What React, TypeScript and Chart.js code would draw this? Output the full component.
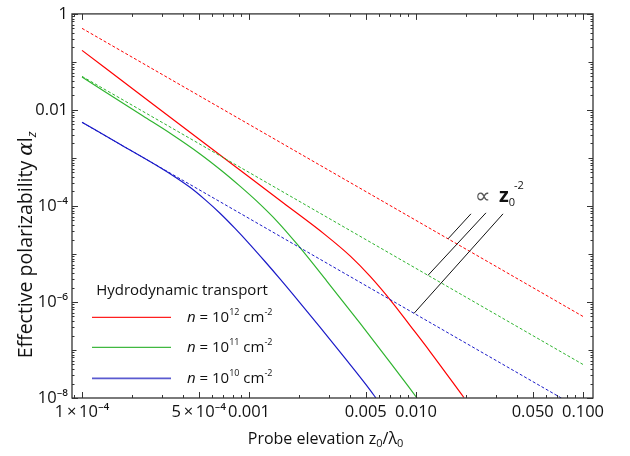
import React, { useEffect, useRef } from "react";
import { Chart, registerables } from "chart.js";

Chart.register(...registerables);

// Probe elevation z0/λ0 (x) and effective polarizability α l_z (y)
const redSolidZ = [1e-4, 2.554e-4, 6.89e-4, 1.6e-3, 2.851e-3, 4.03e-3, 5.3e-3, 7.28e-3, 9.2e-3, 1.213e-2, 1.936e-2];
const redSolidA = [0.174, 1.466e-2, 1.071e-3, 1.163e-4, 2.53e-5, 9.12e-6, 3.446e-6, 9.4e-7, 3.264e-7, 9.29e-8, 1.024e-8];

const greenSolidZ = [1e-4, 1.336e-4, 2.32e-4, 3.37e-4, 5.09e-4, 6.89e-4, 8.83e-4, 1.117e-3, 1.473e-3, 1.936e-3, 2.93e-3, 4.62e-3, 6.98e-3, 1.014e-2];
const greenSolidA = [0.04866, 0.02548, 7.46e-3, 3.265e-3, 1.211e-3, 5.35e-4, 2.584e-4, 1.243e-4, 4.786e-5, 1.615e-5, 2.697e-6, 3.62e-7, 5.61e-8, 1e-8];

const blueSolidZ = [1e-4, 1.689e-4, 2.932e-4, 3.605e-4, 4.433e-4, 5.452e-4, 6.703e-4, 8.245e-4, 1.014e-3, 1.247e-3, 1.533e-3, 2.02e-3, 2.661e-3, 3.757e-3, 5.3e-3, 5.75e-3];
const blueSolidA = [5.54e-3, 1.924e-3, 6.31e-4, 4.01e-4, 2.441e-4, 1.353e-4, 7.05e-5, 3.405e-5, 1.57e-5, 6.97e-6, 3.034e-6, 9.63e-7, 3.0e-7, 6.74e-8, 1.476e-8, 1e-8];

// ∝ z0^-2 reference lines
const dashZ = [1e-4, 0.1];
const redDashA = [0.5, 5e-7];
const greenDashA = [0.05, 5e-8];
const blueDashA = [5.5e-3, 5.5e-9];

const xTickValues = [1e-4, 5e-4, 1e-3, 5e-3, 1e-2, 5e-2, 1e-1];
const xTickLabels = ["1\u2009×\u200910⁻⁴", "5\u2009×\u200910⁻⁴", "0.001", "0.005", "0.010", "0.050", "0.100"];
const yTickValues = [1, 1e-2, 1e-4, 1e-6, 1e-8];
const yTickLabels = ["1", "0.01", "10⁻⁴", "10⁻⁶", "10⁻⁸"];

const seriesColors = ["#ff0000", "#2fb42f", "#1a1ac8"];
const legendLineColors = ["#ff2020", "#40b840", "#5a5ad0"];
const densityExponents = ["12", "11", "10"];
const legendTitle = "Hydrodynamic transport";

// pointer lines of the "∝ z0^-2" note, in data coordinates
const pointerStarts = [[0.02133, 6.85e-5], [0.02624, 7.18e-5], [0.0332, 6.85e-5]];
const pointerEnds = [[0.01556, 2.07e-5], [0.0118, 3.59e-6], [9.73e-3, 5.8e-7]];
const noteAnchor = [0.02285, 1.21e-4];

const SANS = "'Open Sans', 'Noto Sans', sans-serif";

type Piece = { t: string; font: string; dy?: number };

function drawRich(ctx: CanvasRenderingContext2D, pieces: Piece[], x: number, y: number, align: "left" | "center") {
  let w = 0;
  for (const p of pieces) {
    ctx.font = p.font;
    w += ctx.measureText(p.t).width;
  }
  let cx = align === "center" ? x - w / 2 : x;
  ctx.textAlign = "left";
  ctx.textBaseline = "alphabetic";
  for (const p of pieces) {
    ctx.font = p.font;
    ctx.fillText(p.t, cx, y + (p.dy || 0));
    cx += ctx.measureText(p.t).width;
  }
}

const decorPlugin = {
  id: "decor",
  afterDraw(chart: any) {
    const { ctx, chartArea: ca, scales } = chart;
    const xs = scales.x;
    const ys = scales.y;
    ctx.save();

    // frame
    ctx.strokeStyle = "#333";
    ctx.lineWidth = 1.3;
    ctx.strokeRect(ca.left, ca.top, ca.right - ca.left, ca.bottom - ca.top);

    // inner ticks
    ctx.lineWidth = 1;
    ctx.strokeStyle = "#333";
    ctx.beginPath();
    for (let d = -5; d <= 0; d++) {
      for (let k = 1; k <= 9; k++) {
        const v = k * Math.pow(10, d);
        if (v < xs.min || v > xs.max) continue;
        const px = Math.round(xs.getPixelForValue(v)) + 0.5;
        const major = xTickValues.some((t) => Math.abs(t - v) / t < 1e-6);
        const len = major ? 6 : 3;
        ctx.moveTo(px, ca.bottom);
        ctx.lineTo(px, ca.bottom - len);
        ctx.moveTo(px, ca.top);
        ctx.lineTo(px, ca.top + len);
      }
    }
    for (let d = -8; d <= 0; d++) {
      for (let k = 1; k <= 9; k++) {
        const v = k * Math.pow(10, d);
        if (v < ys.min * 0.999 || v > ys.max * 1.001) continue;
        const py = Math.round(ys.getPixelForValue(v)) + 0.5;
        const len = k === 1 ? (d % 2 === 0 ? 6 : 4.5) : 2.5;
        ctx.moveTo(ca.left, py);
        ctx.lineTo(ca.left + len, py);
        ctx.moveTo(ca.right, py);
        ctx.lineTo(ca.right - len, py);
      }
    }
    ctx.stroke();

    ctx.fillStyle = "#111";
    // x title
    drawRich(
      ctx,
      [
        { t: "Probe elevation ", font: `16px ${SANS}` },
        { t: "z", font: `16px ${SANS}` },
        { t: "0", font: `11px ${SANS}`, dy: 3 },
        { t: "/", font: `16px ${SANS}` },
        { t: "λ", font: `16px ${SANS}` },
        { t: "0", font: `11px ${SANS}`, dy: 3 },
      ],
      (ca.left + ca.right) / 2 - 7,
      ca.bottom + 46,
      "center"
    );

    // y title
    ctx.save();
    ctx.translate(ca.left - 40, ca.top + 231);
    ctx.rotate(-Math.PI / 2);
    drawRich(
      ctx,
      [
        { t: "Effective polarizability ", font: `19.5px ${SANS}` },
        { t: "α", font: `italic 20px 'DejaVu Serif', serif` },
        { t: "l", font: `19.5px ${SANS}` },
        { t: "z", font: `italic 13px ${SANS}`, dy: 4 },
      ],
      0,
      0,
      "center"
    );
    ctx.restore();

    // legend
    const lx = ca.left + 20;
    ctx.fillStyle = "#111";
    ctx.font = `15px ${SANS}`;
    ctx.textAlign = "center";
    ctx.textBaseline = "alphabetic";
    ctx.fillText(legendTitle, ca.left + 110, ca.top + 281);
    const rowY = [ca.top + 303, ca.top + 333, ca.top + 364];
    densityExponents.forEach((e, i) => {
      ctx.strokeStyle = legendLineColors[i];
      ctx.lineWidth = i === 2 ? 1.8 : 1.2;
      ctx.beginPath();
      ctx.moveTo(lx, rowY[i] + 0.5);
      ctx.lineTo(lx + 79, rowY[i] + 0.5);
      ctx.stroke();
      ctx.fillStyle = "#111";
      drawRich(
        ctx,
        [
          { t: "n", font: `italic 15px ${SANS}` },
          { t: " = 10", font: `15px ${SANS}` },
          { t: e, font: `9px ${SANS}`, dy: -7 },
          { t: " cm", font: `15px ${SANS}` },
          { t: "-2", font: `9px ${SANS}`, dy: -7 },
        ],
        lx + 95,
        rowY[i] + 5,
        "left"
      );
    });

    // ∝ z0^-2 note with pointer lines
    ctx.strokeStyle = "#111";
    ctx.lineWidth = 1;
    ctx.beginPath();
    pointerStarts.forEach((s, i) => {
      const e = pointerEnds[i];
      ctx.moveTo(xs.getPixelForValue(s[0]), ys.getPixelForValue(s[1]));
      ctx.lineTo(xs.getPixelForValue(e[0]), ys.getPixelForValue(e[1]));
    });
    ctx.stroke();
    const nx = xs.getPixelForValue(noteAnchor[0]);
    const ny = ys.getPixelForValue(noteAnchor[1]);
    ctx.fillStyle = "#555";
    ctx.font = `22px 'DejaVu Sans', sans-serif`;
    ctx.textAlign = "left";
    ctx.fillText("∝", nx - 1, ny + 1);
    ctx.fillStyle = "#111";
    drawRich(
      ctx,
      [
        { t: "z", font: `bold 20px ${SANS}` },
        { t: "0", font: `11px ${SANS}`, dy: 4 },
      ],
      nx + 23,
      ny,
      "left"
    );
    ctx.font = `11px ${SANS}`;
    ctx.fillText("-2", nx + 38, ny - 13);

    ctx.restore();
  },
};

export default function App() {
  const ref = useRef<HTMLCanvasElement | null>(null);

  useEffect(() => {
    document.body.style.margin = "0";
    const canvas = ref.current;
    if (!canvas) return;

    const pts = (zs: number[], as: number[]) => zs.map((z, i) => ({ x: z, y: as[i] }));
    const solid = (label: string, zs: number[], as: number[], color: string) => ({
      label,
      data: pts(zs, as),
      borderColor: color,
      backgroundColor: color,
      borderWidth: 1.2,
      pointRadius: 0,
      fill: false,
      cubicInterpolationMode: "monotone" as const,
    });
    const dashed = (label: string, as: number[], color: string) => ({
      label,
      data: pts(dashZ, as),
      borderColor: color,
      backgroundColor: color,
      borderWidth: 1,
      borderDash: [3, 2],
      pointRadius: 0,
      fill: false,
    });

    const chart = new Chart(canvas, {
      type: "line",
      data: {
        datasets: [
          dashed("n = 10¹² cm⁻² (∝ z₀⁻²)", redDashA, seriesColors[0]),
          dashed("n = 10¹¹ cm⁻² (∝ z₀⁻²)", greenDashA, seriesColors[1]),
          dashed("n = 10¹⁰ cm⁻² (∝ z₀⁻²)", blueDashA, seriesColors[2]),
          solid("n = 10¹⁰ cm⁻²", blueSolidZ, blueSolidA, seriesColors[2]),
          solid("n = 10¹¹ cm⁻²", greenSolidZ, greenSolidA, seriesColors[1]),
          solid("n = 10¹² cm⁻²", redSolidZ, redSolidA, seriesColors[0]),
        ],
      },
      options: {
        responsive: false,
        animation: false,
        devicePixelRatio: 1,
        layout: { padding: { left: 0, top: 8, right: 37, bottom: 0 } },
        plugins: { legend: { display: false }, tooltip: { enabled: false } },
        scales: {
          x: {
            type: "logarithmic",
            min: 8.71e-5,
            max: 0.1148,
            grid: { display: false, drawTicks: false },
            border: { display: false },
            afterBuildTicks: (s: any) => {
              s.ticks = xTickValues.map((v) => ({ value: v }));
            },
            afterFit: (s: any) => {
              s.height = 58;
            },
            ticks: {
              autoSkip: false,
              maxRotation: 0,
              padding: 4,
              color: "#111",
              font: { family: SANS, size: 16.5 },
              callback: (_v: any, i: number) => xTickLabels[i],
            },
          },
          y: {
            type: "logarithmic",
            min: 1e-8,
            max: 1,
            grid: { display: false, drawTicks: false },
            border: { display: false },
            afterBuildTicks: (s: any) => {
              s.ticks = yTickValues.map((v) => ({ value: v }));
            },
            afterFit: (s: any) => {
              s.width = 72;
            },
            ticks: {
              autoSkip: false,
              padding: 4,
              color: "#111",
              font: { family: SANS, size: 16.5 },
              callback: (_v: any, i: number) => yTickLabels[i],
            },
          },
        },
      },
      plugins: [decorPlugin],
    });

    return () => chart.destroy();
  }, []);

  return <canvas ref={ref} width={630} height={456} style={{ display: "block" }} />;
}
